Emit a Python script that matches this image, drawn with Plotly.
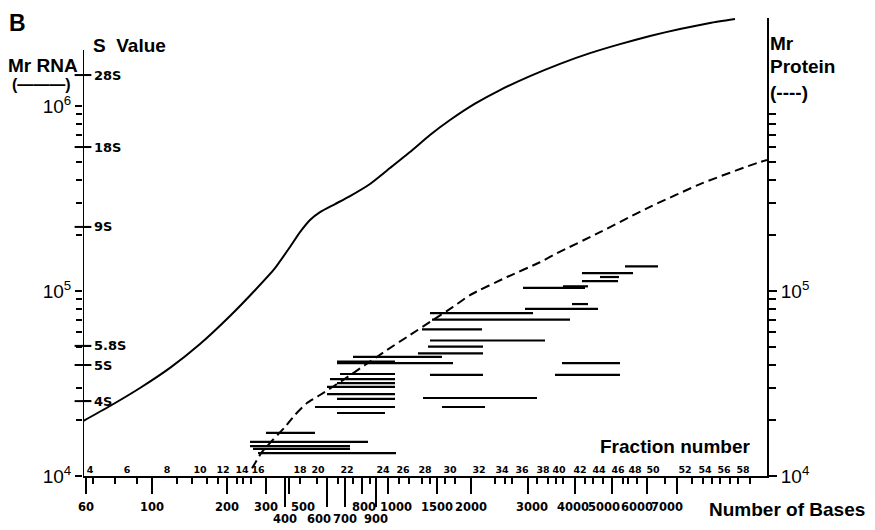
import plotly.graph_objects as go

# ---------------- data ----------------
# horizontal position = distance along the gradient (arbitrary units, 0 = left axis)
rna_pos = [0, 27, 57, 87, 117, 147, 172, 192, 207, 217, 227, 237, 252, 267, 287, 307,
           327, 347, 367, 392, 417, 447, 477, 507, 537, 567, 597, 627, 652]
rna_mr = [1.98e4, 2.39e4, 2.99e4, 3.84e4, 5.17e4, 7.33e4, 1.01e5, 1.33e5, 1.73e5, 2.08e5,
          2.42e5, 2.67e5, 2.95e5, 3.26e5, 3.79e5, 4.62e5, 5.64e5, 6.97e5, 8.40e5, 1.03e6,
          1.22e6, 1.45e6, 1.69e6, 1.93e6, 2.16e6, 2.39e6, 2.61e6, 2.81e6, 2.95e6]

protein_pos = [169, 179, 190, 202, 212, 224, 237, 260, 282, 304, 327, 350, 370, 387, 424,
               457, 474, 517, 567, 620, 674, 684]
protein_mr = [1.10e4, 1.35e4, 1.57e4, 1.84e4, 2.14e4, 2.48e4, 2.74e4, 3.30e4, 3.98e4, 4.80e4,
              5.78e4, 6.97e4, 8.20e4, 9.51e4, 1.19e5, 1.43e5, 1.60e5, 2.08e5, 2.85e5, 3.84e5,
              4.92e5, 5.11e5]

# protein bands: start / end position and Mr
band_start = [542, 499, 517, 499, 480, 440, 489, 442, 347, 349, 339, 347, 345, 335, 270, 254,
              254, 479, 472, 347, 257, 247, 254, 244, 244, 254, 232, 254, 340, 359, 183, 167,
              167, 170, 175]
band_end = [575, 550, 536, 535, 505, 502, 505, 515, 450, 487, 399, 462, 400, 400, 359, 370,
            312, 537, 537, 400, 312, 312, 312, 312, 312, 312, 312, 302, 454, 402, 232, 285,
            267, 267, 313]
band_mr = [1.36e5, 1.25e5, 1.19e5, 1.13e5, 1.06e5, 1.04e5, 8.5e4, 8.0e4, 7.6e4, 7.0e4, 6.2e4,
           5.4e4, 5.0e4, 4.6e4, 4.4e4, 4.08e4, 4.15e4, 4.08e4, 3.52e4, 3.52e4, 3.56e4, 3.34e4,
           3.18e4, 3.03e4, 2.77e4, 2.61e4, 2.36e4, 2.19e4, 2.64e4, 2.36e4, 1.71e4, 1.53e4,
           1.45e4, 1.40e4, 1.33e4]

# S value markers on the RNA axis
s_labels = ["28S", "18S", "9S", "5.8S", "5S", "4S"]
s_mr = [1.47e6, 6.0e5, 2.22e5, 5.05e4, 3.98e4, 2.54e4]

# Mr axis ticks
mr_major = [1e4, 1e5, 1e6]
mr_major_text = ["10<sup>4</sup>", "10<sup>5</sup>", "10<sup>6</sup>"]
mr_minor = [2e4, 3e4, 4e4, 5e4, 6e4, 7e4, 8e4, 9e4, 2e5, 3e5, 4e5, 5e5, 6e5, 7e5, 8e5, 9e5]
protein_major = [1e4, 1e5]
protein_major_text = ["10<sup>4</sup>", "10<sup>5</sup>"]

# number of bases scale
bases_row1 = ["60", "100", "200", "300", "500", "800", "1000", "1500", "2000", "3000",
              "4000", "5000", "6000", "7000"]
bases_row1_pos = [3, 69, 144, 183, 206, 279, 305, 354, 388, 445, 492, 529, 564, 594]
bases_row2 = ["400", "600", "700", "900"]
bases_row2_pos = [202, 244, 262, 293]

# fraction number scale
fraction_labels = [str(n) for n in range(4, 60, 2)]
fraction_pos = [7, 44, 84, 117, 140, 159, 175, 217, 235, 264, 300, 320, 342, 367, 396, 419,
                439, 460, 476, 497, 516, 535, 552, 570, 602, 622, 641, 660]
fraction_minor_pos = [10, 32, 54, 94, 109, 124, 135, 154, 160, 168, 217, 234, 255, 270, 287,
                      316, 326, 339, 347, 362, 372, 412, 422, 429, 454, 465, 473, 480, 502,
                      510, 520, 540, 545, 554, 582, 609, 620, 629, 637, 647, 655, 667]

X_RANGE = [0, 684]
Y_RANGE = [4, 4 + 458 / 185]

FONT = "Liberation Sans, Arial, sans-serif"
TICKFONT = "DejaVu Sans, sans-serif"
NB = "\u00a0"


def nudge(label, shift):
    """pad a centred tick label with no-break spaces to nudge it right (+) or left (-)"""
    return NB * shift + label if shift > 0 else label + NB * (-shift)


row1_nudge = [0, 0, 0, 0, 7, 1, 4, 0, 0, 2, -1, -4, -5, -5]
row2_nudge = [0, -4, 0, 0]

# ---------------- figure ----------------
fig = go.Figure()

fig.add_trace(go.Scatter(x=rna_pos, y=rna_mr, mode="lines",
                         line=dict(color="black", width=2, shape="spline", smoothing=0.5),
                         hoverinfo="skip"))
fig.add_trace(go.Scatter(x=protein_pos, y=protein_mr, mode="lines",
                         line=dict(color="black", width=2, dash="9px,5px", shape="spline",
                                   smoothing=0.5),
                         hoverinfo="skip"))

seg_x, seg_y = [], []
for s, e, m in zip(band_start, band_end, band_mr):
    seg_x += [s, e, None]
    seg_y += [m, m, None]
fig.add_trace(go.Scatter(x=seg_x, y=seg_y, mode="lines",
                         line=dict(color="black", width=2.2), hoverinfo="skip"))

# S value tick marks crossing the RNA axis
fig.add_trace(go.Scatter(x=[X_RANGE[0]] * len(s_mr), y=s_mr, mode="markers",
                         marker=dict(symbol="line-ew", size=12,
                                     line=dict(color="black", width=2)),
                         cliponaxis=False, hoverinfo="skip"))

# dummy traces so the overlaid axes are realised
for xa, ya in [("x2", "y"), ("x3", "y"), ("x4", "y"), ("x", "y2"), ("x", "y3"), ("x", "y4")]:
    fig.add_trace(go.Scatter(x=[None], y=[None], xaxis=xa, yaxis=ya, mode="lines",
                             showlegend=False, hoverinfo="skip"))

common_x = dict(range=X_RANGE, showgrid=False, zeroline=False, automargin=False,
                tickcolor="black", tickwidth=2, tickmode="array", tickangle=0)
common_y = dict(type="log", range=Y_RANGE, showgrid=False, zeroline=False, automargin=False,
                tickcolor="black", tickwidth=2, tickmode="array")

tick_bold = dict(family=TICKFONT, size=11.5, color="black", weight="bold")

# the page body adds an 8 px offset, so the figure is sized 8 px smaller each way
fig.update_layout(
    width=867, height=522,
    margin=dict(l=75, r=108, t=10, b=54),
    plot_bgcolor="white", paper_bgcolor="white",
    showlegend=False,
    font=dict(family=FONT, color="black"),
    xaxis=dict(**common_x, showline=True, linecolor="black", linewidth=2,
               tickvals=bases_row1_pos,
               ticktext=[nudge(t, n) for t, n in zip(bases_row1, row1_nudge)],
               ticks="outside", ticklen=16, tickfont=tick_bold, ticklabelstandoff=3),
    xaxis2=dict(**common_x, overlaying="x", anchor="y", side="bottom", showline=False,
                tickvals=bases_row2_pos,
                ticktext=[nudge(t, n) for t, n in zip(bases_row2, row2_nudge)],
                ticks="outside", ticklen=30, tickfont=tick_bold, ticklabelstandoff=2),
    xaxis3=dict(**common_x, overlaying="x", anchor="y", side="bottom", showline=False,
                tickvals=fraction_minor_pos, ticks="outside", ticklen=7,
                showticklabels=False),
    # fraction numbers: a top-sided axis pinned to the bottom edge, labels sit above the line
    xaxis4=dict(**common_x, overlaying="x", anchor="free", position=0, side="top",
                showline=False, tickvals=fraction_pos, ticktext=fraction_labels, ticks="",
                ticklabelstandoff=1,
                tickfont=dict(family=TICKFONT, size=9.5, color="black", weight="bold")),
    yaxis=dict(**common_y, showline=False, tickvals=mr_major, ticktext=mr_major_text,
               ticks="outside", ticklen=7,
               tickfont=dict(family=FONT, size=19, color="black"),
               minor=dict(tickmode="array", tickvals=mr_minor, ticks="outside", ticklen=6,
                          tickwidth=2, tickcolor="black")),
    # S value labels: a right-sided axis pinned to the left edge, labels right of the line
    yaxis2=dict(**common_y, overlaying="y", anchor="free", position=0, side="right",
                showline=False, tickvals=s_mr, ticktext=s_labels, ticks="",
                ticklabelstandoff=10,
                tickfont=dict(family=TICKFONT, size=13, color="black", weight="bold")),
    # S value tick marks, pointing into the plot from the left axis
    yaxis4=dict(**common_y, overlaying="y", anchor="x", side="left", showline=False,
                tickvals=s_mr, ticks="inside", ticklen=8, showticklabels=False),
    yaxis3=dict(**common_y, overlaying="y", side="right", anchor="x", showline=True,
                linecolor="black", linewidth=2,
                tickvals=protein_major, ticktext=protein_major_text, ticks="outside",
                ticklen=8, tickfont=dict(family=FONT, size=19, color="black"),
                minor=dict(tickmode="array", tickvals=mr_minor, ticks="outside", ticklen=7,
                           tickwidth=2, tickcolor="black")),
)

# left (RNA) axis line, which stops below the "S Value" heading
fig.add_shape(type="line", xref="x", yref="paper", x0=0, x1=0, y0=0, y1=0.93,
              line=dict(color="black", width=2))

title_font = dict(family=FONT, size=19, color="black", weight="bold")
annots = [
    dict(text="B", x=-0.096, y=0.99, xanchor="center", font=dict(family=FONT, size=23,
                                                                 color="black", weight="bold")),
    dict(text="S\u00a0 Value", x=0.0673, y=0.939, xanchor="center", font=title_font),
    dict(text="Mr RNA", x=-0.004, y=0.897, xanchor="right", font=title_font),
    dict(text="(\u2014\u2014\u2014)", x=-0.106, y=0.855, xanchor="left",
         font=dict(family=FONT, size=16, color="black", weight="bold")),
    dict(text="Mr", x=1.0015, y=0.945, xanchor="left", font=title_font),
    dict(text="Protein", x=1.0015, y=0.895, xanchor="left", font=title_font),
    dict(text="(----)", x=1.0015, y=0.838, xanchor="left", font=title_font),
    dict(text="Fraction number", x=0.9795, y=0.0655, xanchor="right", font=title_font),
    dict(text="Number of Bases", x=0.912, y=-0.0742, xanchor="left", font=title_font),
]
for a in annots:
    fig.add_annotation(xref="paper", yref="paper", showarrow=False, yanchor="middle", **a)

fig.write_html("out.html")
